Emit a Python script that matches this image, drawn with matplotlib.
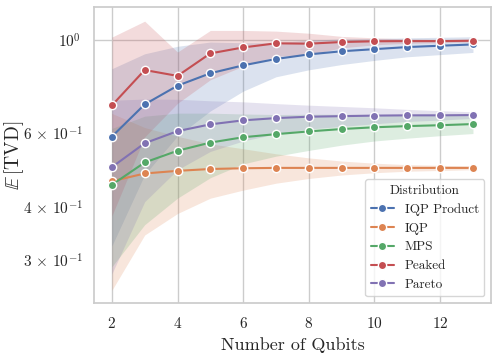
import numpy as np
import matplotlib
matplotlib.use("Agg")
import matplotlib.pyplot as plt
import matplotlib.ticker as mticker
import seaborn as sns

# Number of qubits
n_qubits = np.arange(2, 14)

# mean TVD per distribution
iqp_product = [0.590, 0.704, 0.780, 0.835, 0.872, 0.903, 0.926, 0.942, 0.953, 0.964, 0.971, 0.978]
iqp = [0.462, 0.482, 0.489, 0.494, 0.496, 0.497, 0.497, 0.497, 0.497, 0.497, 0.497, 0.497]
mps = [0.453, 0.512, 0.546, 0.571, 0.588, 0.598, 0.607, 0.615, 0.621, 0.625, 0.628, 0.632]
peaked = [0.700, 0.850, 0.823, 0.931, 0.962, 0.984, 0.982, 0.991, 0.995, 0.996, 0.996, 0.998]
pareto = [0.499, 0.569, 0.608, 0.631, 0.645, 0.653, 0.658, 0.660, 0.662, 0.663, 0.663, 0.664]

# spread (half width of shaded band)
iqp_product_sd = [0.266, 0.225, 0.188, 0.156, 0.115, 0.084, 0.075, 0.066, 0.057, 0.050, 0.046, 0.042]
iqp_sd = [0.208, 0.138, 0.102, 0.073, 0.056, 0.040, 0.028, 0.019, 0.013, 0.009, 0.007, 0.005]
mps_sd = [0.164, 0.148, 0.125, 0.100, 0.080, 0.068, 0.060, 0.052, 0.045, 0.040, 0.035, 0.032]
peaked_sd = [0.318, 0.261, 0.115, 0.125, 0.094, 0.068, 0.058, 0.031, 0.019, 0.012, 0.009, 0.007]
pareto_sd = [0.221, 0.156, 0.116, 0.087, 0.069, 0.054, 0.043, 0.036, 0.029, 0.022, 0.017, 0.012]

labels = ['IQP Product', 'IQP', 'MPS', 'Peaked', 'Pareto']
means = [iqp_product, iqp, mps, peaked, pareto]
sds = [iqp_product_sd, iqp_sd, mps_sd, peaked_sd, pareto_sd]

# labelled ticks on the log axis
y_major = [1.0]
y_major_labels = [r'$10^{0}$']
y_minor = [0.3, 0.4, 0.6]
y_minor_labels = [r'$3\,\times\,10^{-1}$', r'$4\,\times\,10^{-1}$', r'$6\,\times\,10^{-1}$']

sns.set_theme(style='whitegrid')
plt.rcParams['font.family'] = 'serif'
plt.rcParams['font.serif'] = ['cmr10']
plt.rcParams['mathtext.fontset'] = 'cm'
plt.rcParams['axes.formatter.use_mathtext'] = True

colors = sns.color_palette('deep')

fig = plt.figure(figsize=(4.99, 3.56), dpi=100)
ax = fig.add_axes([0.188, 0.149, 0.796, 0.831])

for lab, m, s, c in zip(labels, means, sds, colors):
    m = np.array(m)
    s = np.array(s)
    ax.fill_between(n_qubits, m - s, m + s, color=c, alpha=0.2, linewidth=0)
    ax.plot(n_qubits, m, color=c, marker='o', markersize=6, markeredgecolor='white',
            markeredgewidth=1.0, linewidth=1.5, label=lab)

ax.set_yscale('log')
ax.set_ylim(0.237, 1.2)
ax.yaxis.set_major_locator(mticker.FixedLocator(y_major))
ax.yaxis.set_major_formatter(mticker.FixedFormatter(y_major_labels))
ax.yaxis.set_minor_locator(mticker.FixedLocator(y_minor))
ax.yaxis.set_minor_formatter(mticker.FixedFormatter(y_minor_labels))
ax.set_xticks([2, 4, 6, 8, 10, 12])
ax.tick_params(axis='both', which='both', labelsize=11)
ax.set_xlabel('Number of Qubits', fontsize=13)
ax.set_ylabel(r'$\mathbb{E}\,[\mathrm{TVD}]$', fontsize=14)
ax.yaxis.set_label_coords(-0.17, 0.5)

leg = ax.legend(title='Distribution', loc='lower right', fontsize=9.5, title_fontsize=9.5,
                labelspacing=0.5, handlelength=1.8)

fig.savefig('out.png', dpi=100)
